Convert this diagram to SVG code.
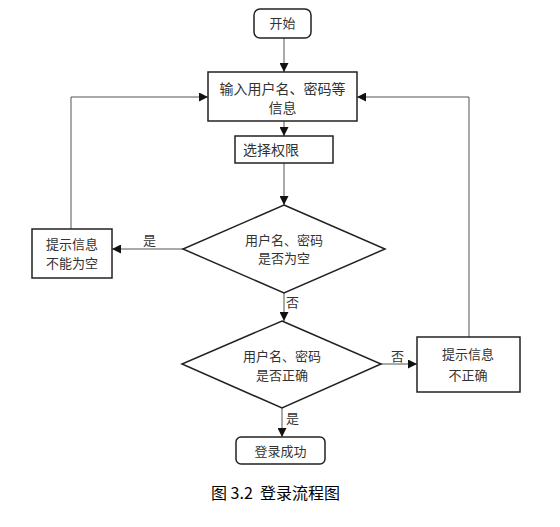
<svg xmlns="http://www.w3.org/2000/svg" width="560" height="527" viewBox="0 0 560 527">
<style>
.n{fill:#fff;stroke:#222;stroke-width:1.5}
.t{font-family:"Noto Sans CJK SC","Liberation Sans",sans-serif;font-size:13px;fill:#333;text-anchor:middle}
.c{fill:none;stroke:#555;stroke-width:1}
.l{font-family:"Noto Sans CJK SC","Liberation Sans",sans-serif;font-size:13px;fill:#333}
</style>
<defs>
<marker id="a" viewBox="0 0 10 10" refX="10" refY="5" markerWidth="9" markerHeight="9" markerUnits="userSpaceOnUse" orient="auto">
<path d="M0,0L10,5L0,10z" fill="#111"/>
</marker>
</defs>
<rect width="560" height="527" fill="#fff"/>
<g id="connectors">
<path class="c" d="M284,38V72" marker-end="url(#a)"/>
<path class="c" d="M284,121V136" marker-end="url(#a)"/>
<path class="c" d="M284,163V205" marker-end="url(#a)"/>
<path class="c" d="M183,249H112" marker-end="url(#a)"/>
<path class="c" d="M71,229V97H208" marker-end="url(#a)"/>
<path class="c" d="M284,293V321" marker-end="url(#a)"/>
<path class="c" d="M381,364H417" marker-end="url(#a)"/>
<path class="c" d="M469,337V97H357" marker-end="url(#a)"/>
<path class="c" d="M282,408V437" marker-end="url(#a)"/>
<text class="l" x="143" y="245">是</text>
<text class="l" x="286" y="307">否</text>
<text class="l" x="391" y="361">否</text>
<text class="l" x="286" y="423">是</text>
</g>
<g id="start">
<rect class="n" x="254" y="9" width="57" height="29" rx="6"/>
<text class="t" x="282.5" y="28">开始</text>
</g>
<g id="input">
<rect class="n" x="208" y="72" width="149" height="49"/>
<text class="t" x="282.5" y="94" style="font-size:14px">输入用户名、密码等</text>
<text class="t" x="282.5" y="113" style="font-size:14px">信息</text>
</g>
<g id="role">
<rect class="n" x="235" y="136" width="98" height="27"/>
<text class="t" x="243" y="155" style="text-anchor:start;font-size:14px">选择权限</text>
</g>
<g id="check-empty">
<polygon class="n" points="284,205 385,249 284,293 183,249"/>
<text class="t" x="284" y="245">用户名、密码</text>
<text class="t" x="284" y="263">是否为空</text>
</g>
<g id="empty-tip">
<rect class="n" x="32" y="229" width="80" height="49"/>
<text class="t" x="72" y="249">提示信息</text>
<text class="t" x="72" y="268">不能为空</text>
</g>
<g id="check-valid">
<polygon class="n" points="282,321 381,364 282,408 182,364"/>
<text class="t" x="282" y="361">用户名、密码</text>
<text class="t" x="282" y="380">是否正确</text>
</g>
<g id="invalid-tip">
<rect class="n" x="417" y="337" width="103" height="55"/>
<text class="t" x="468" y="359">提示信息</text>
<text class="t" x="468" y="380">不正确</text>
</g>
<g id="success">
<rect class="n" x="236" y="437" width="89" height="27" rx="5"/>
<text class="t" x="280.5" y="456">登录成功</text>
</g>
<text x="211" y="499" xml:space="preserve" style="white-space:pre;font-family:'Noto Sans CJK SC','Liberation Sans',sans-serif;font-size:16px;fill:#000">图 3.2  登录流程图</text>
</svg>
